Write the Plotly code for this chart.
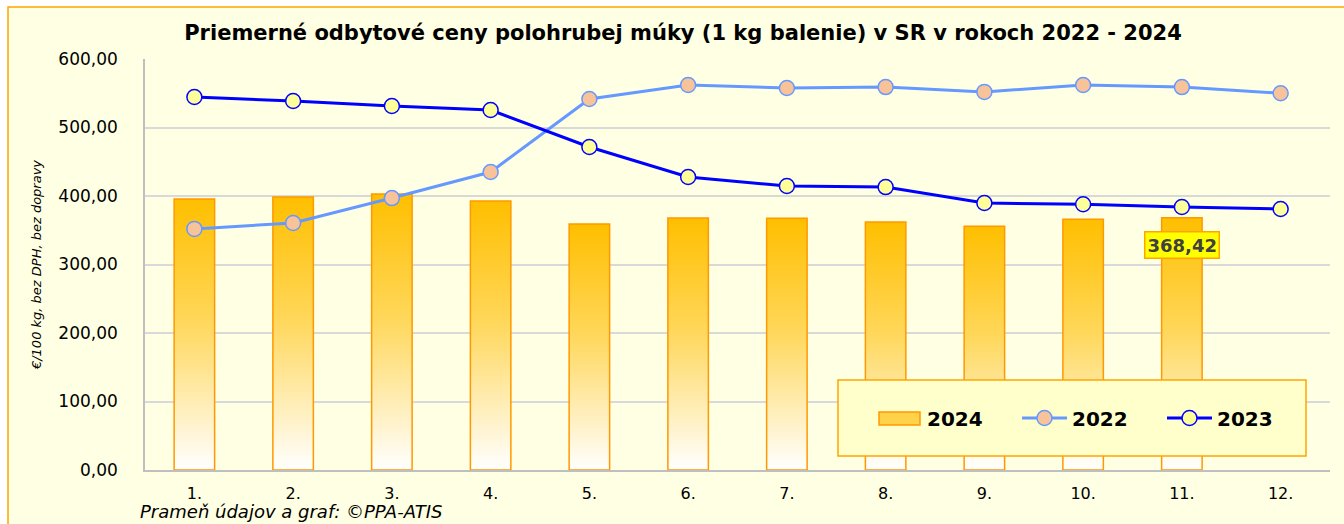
import plotly.graph_objects as go

months = ["1.", "2.", "3.", "4.", "5.", "6.", "7.", "8.", "9.", "10.", "11.", "12."]
y2024 = [395.6, 398.5, 403.0, 392.7, 359.0, 368.0, 367.5, 362.0, 356.0, 366.0, 368.42]
y2022 = [352.0, 360.6, 397.0, 435.0, 541.6, 562.0, 557.7, 559.0, 552.0, 562.0, 559.0, 550.0]
y2023 = [544.5, 538.7, 531.4, 525.5, 471.5, 427.7, 414.6, 413.0, 389.8, 388.0, 384.0, 381.0]
yticks = [0, 100, 200, 300, 400, 500, 600]

W, H = 1344, 524
L, R, T, B = 145, 14, 59, 54
pw, ph = W - L - R, H - T - B
FONT = "DejaVu Sans"

def px_x(p):
    return (p - L) / pw

def px_y(p):
    return (H - B - p) / ph

fig = go.Figure()

xs = list(range(1, 13))
bw = 0.41

# bar trace (legend entry; visible fill drawn by gradient overlays)
fig.add_trace(go.Bar(
    x=xs[:len(y2024)], y=y2024, name="<b>2024</b>", width=bw,
    marker=dict(color="rgba(0,0,0,0)", line=dict(color="rgba(0,0,0,0)", width=0)),
    hoverinfo="skip",
))

for i, v in enumerate(y2024):
    c = xs[i]
    fig.add_trace(go.Scatter(
        x=[c - bw / 2, c - bw / 2, c + bw / 2, c + bw / 2, c - bw / 2],
        y=[0, v, v, 0, 0], mode="lines", fill="toself",
        line=dict(color="#FF9900", width=1.5),
        fillgradient=dict(type="vertical",
                          colorscale=[[0, "#FFFFFF"], [0.55, "#FFD75A"], [1, "#FFBF00"]]),
        showlegend=False, hoverinfo="skip",
    ))

fig.add_trace(go.Scatter(
    x=xs, y=y2022, name="<b>2022</b>", mode="lines+markers",
    line=dict(color="#6699FF", width=3),
    marker=dict(size=15, color="#F9C39A", line=dict(color="#6699FF", width=1.5)),
))
fig.add_trace(go.Scatter(
    x=xs, y=y2023, name="<b>2023</b>", mode="lines+markers",
    line=dict(color="#0000FF", width=3),
    marker=dict(size=15, color="#FFFF99", line=dict(color="#0000FF", width=1.5)),
))

# outer frame
fig.add_shape(type="rect", xref="paper", yref="paper", layer="below",
              x0=px_x(8), x1=px_x(1350), y0=px_y(530), y1=px_y(7),
              fillcolor="#FFFFE3", line=dict(color="#FFA500", width=1.5))
# legend box
fig.add_shape(type="rect", xref="paper", yref="paper", layer="above",
              x0=px_x(838), x1=px_x(1306), y0=px_y(456), y1=px_y(380),
              fillcolor="#FFFFCC", line=dict(color="#FFA500", width=1.5))
# legend swatch for 2024 (wide bar sample)
fig.add_shape(type="rect", xref="paper", yref="paper", layer="above",
              x0=px_x(879), x1=px_x(920), y0=px_y(425), y1=px_y(412),
              fillcolor="#FFD24A", line=dict(color="#FF9900", width=1.5))

fig.add_annotation(x=11, y=y2024[10], xref="x", yref="y", yanchor="top", yshift=-13,
                   text="<b>368,42</b>", showarrow=False,
                   font=dict(size=18, color="#404040", family=FONT),
                   bgcolor="#FFFF00", bordercolor="#FFA500", borderwidth=1.5, borderpad=2)

fig.add_annotation(xref="paper", yref="paper", x=px_x(138), y=px_y(511),
                   xanchor="left", yanchor="middle", showarrow=False,
                   text="<i>Prameň údajov a graf: ©PPA-ATIS</i>",
                   font=dict(size=18, color="#000000", family=FONT))

fig.update_layout(
    width=W, height=H,
    margin=dict(l=L, r=R, t=T, b=B),
    paper_bgcolor="#FFFFFF", plot_bgcolor="#FFFFE3",
    separators=",.",
    font=dict(family=FONT, size=15, color="#000000"),
    title=dict(text="<b>Priemerné odbytové ceny polohrubej múky (1 kg balenie) v SR v rokoch 2022 - 2024</b>",
               x=px_x(683), xanchor="center", xref="paper", y=1 - 33 / H, yanchor="middle",
               font=dict(size=21, family=FONT)),
    xaxis=dict(tickmode="array", tickvals=xs, ticktext=months, range=[0.5, 12.5],
               showgrid=False, showline=True, linecolor="#BFBFBF", linewidth=1.5,
               ticks="", ticklabelstandoff=8, fixedrange=True,
               tickfont=dict(size=16)),
    yaxis=dict(range=[0, 600], tickvals=yticks, tickformat=".2f",
               showgrid=True, gridcolor="#D9D9D9", gridwidth=1.5,
               showline=True, linecolor="#BFBFBF", linewidth=1.5, ticks="",
               zeroline=False, ticklabelstandoff=22, tickfont=dict(size=17),
               title=dict(text="<i>€/100 kg, bez DPH, bez dopravy</i>",
                          font=dict(size=13), standoff=14)),
    barmode="overlay",
    legend=dict(orientation="h", xref="paper", yref="paper",
                x=px_x(872), y=px_y(418), xanchor="left", yanchor="middle",
                bgcolor="rgba(0,0,0,0)", borderwidth=0,
                font=dict(size=20, family=FONT, color="#000000"),
                itemwidth=45, entrywidth=85, entrywidthmode="pixels",
                traceorder="normal"),
    showlegend=True,
)

fig.write_html("out.html", config={"displayModeBar": False},
               post_script="document.body.style.margin='0px';")
